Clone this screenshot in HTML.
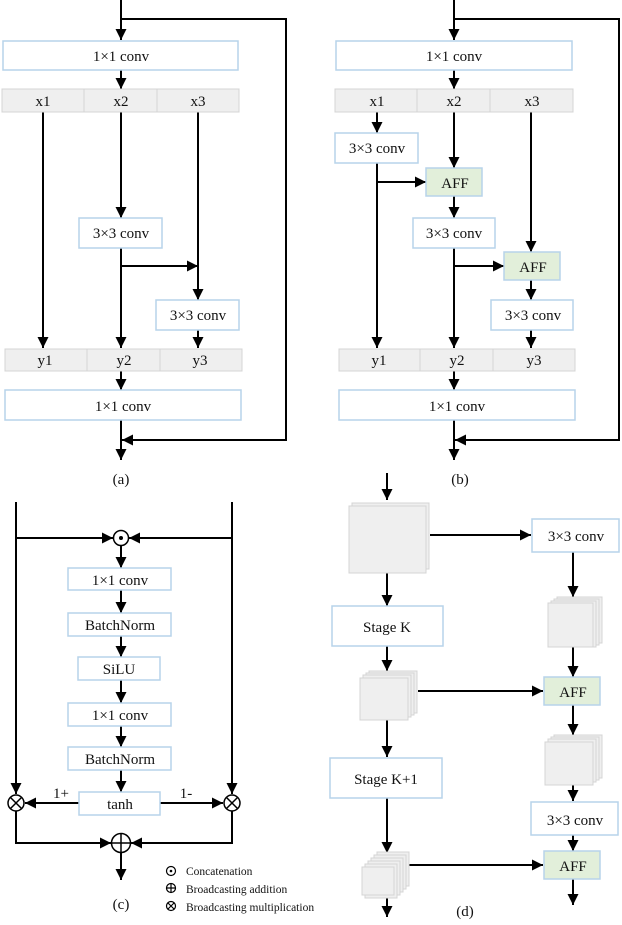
<!DOCTYPE html>
<html><head><meta charset="utf-8"><style>
body{margin:0;background:#fff}
text{font-family:"Liberation Serif",serif;fill:#111}
</style></head><body>
<svg width="622" height="920" viewBox="0 0 622 920" xmlns="http://www.w3.org/2000/svg">
<defs>
<marker id="a" viewBox="0 0 10 10" refX="10" refY="5" markerWidth="5" markerHeight="5" orient="auto" markerUnits="userSpaceOnUse"><path d="M0,0 L10,5 L0,10 z" fill="#000"/></marker>
<marker id="b" viewBox="0 0 10 10" refX="10" refY="5" markerWidth="11" markerHeight="11" orient="auto" markerUnits="userSpaceOnUse"><path d="M0,0 L10,5 L0,10 z" fill="#000"/></marker>
</defs>
<g stroke="#000" stroke-width="2" fill="none">
<!-- (a) -->
<path d="M121,0 V40" marker-end="url(#b)"/>
<path d="M121,19 H286 V440 H122" marker-end="url(#b)"/>
<path d="M121,70 V89" marker-end="url(#b)"/>
<path d="M43,112 V348" marker-end="url(#b)"/>
<path d="M121,112 V218" marker-end="url(#b)"/>
<path d="M121,248 V348" marker-end="url(#b)"/>
<path d="M121,266 H198" marker-end="url(#b)"/>
<path d="M198,112 V300" marker-end="url(#b)"/>
<path d="M198,330 V348" marker-end="url(#b)"/>
<path d="M121,371 V390" marker-end="url(#b)"/>
<path d="M121,420 V460" marker-end="url(#b)"/>
<!-- (b) -->
<path d="M454,0 V40" marker-end="url(#b)"/>
<path d="M454,19 H619 V440 H455" marker-end="url(#b)"/>
<path d="M454,70 V89" marker-end="url(#b)"/>
<path d="M377,112 V133" marker-end="url(#b)"/>
<path d="M377,163 V348" marker-end="url(#b)"/>
<path d="M377,182 H426" marker-end="url(#b)"/>
<path d="M454,112 V168" marker-end="url(#b)"/>
<path d="M454,196 V218" marker-end="url(#b)"/>
<path d="M454,248 V348" marker-end="url(#b)"/>
<path d="M454,266 H504" marker-end="url(#b)"/>
<path d="M531,112 V252" marker-end="url(#b)"/>
<path d="M531,280 V300" marker-end="url(#b)"/>
<path d="M531,330 V348" marker-end="url(#b)"/>
<path d="M454,371 V390" marker-end="url(#b)"/>
<path d="M454,420 V460" marker-end="url(#b)"/>
<!-- (c) -->
<path d="M16,502 V794" marker-end="url(#b)"/>
<path d="M232,502 V794" marker-end="url(#b)"/>
<path d="M16,538 H113" marker-end="url(#b)"/>
<path d="M232,538 H129" marker-end="url(#b)"/>
<path d="M121,546 V568" marker-end="url(#b)"/>
<path d="M121,590 V613" marker-end="url(#b)"/>
<path d="M121,636 V657" marker-end="url(#b)"/>
<path d="M121,680 V703" marker-end="url(#b)"/>
<path d="M121,726 V747" marker-end="url(#b)"/>
<path d="M121,770 V792" marker-end="url(#b)"/>
<path d="M79,803 H25" marker-end="url(#b)"/>
<path d="M160,803 H223" marker-end="url(#b)"/>
<path d="M16,811 V843 H111" marker-end="url(#b)"/>
<path d="M232,811 V843 H131" marker-end="url(#b)"/>
<path d="M121,853 V880" marker-end="url(#b)"/>
<!-- (d) -->
<path d="M387,473 V500" marker-end="url(#b)"/>
<path d="M430,535 H531" marker-end="url(#b)"/>
<path d="M573,552 V597" marker-end="url(#b)"/>
<path d="M573,647 V677" marker-end="url(#b)"/>
<path d="M573,705 V735" marker-end="url(#b)"/>
<path d="M573,785 V801" marker-end="url(#b)"/>
<path d="M573,835 V851" marker-end="url(#b)"/>
<path d="M573,879 V905" marker-end="url(#b)"/>
<path d="M387,573 V606" marker-end="url(#b)"/>
<path d="M387,646 V671" marker-end="url(#b)"/>
<path d="M418,691 H543" marker-end="url(#b)"/>
<path d="M387,720 V757" marker-end="url(#b)"/>
<path d="M387,798 V853" marker-end="url(#b)"/>
<path d="M409,865 H543" marker-end="url(#b)"/>
<path d="M387,895 V917" marker-end="url(#b)"/>
</g>
<g stroke="#b7d3ea" stroke-width="1.5" fill="#fff">
<rect x="3" y="41" width="235" height="29"/>
<rect x="79" y="218" width="83" height="30"/>
<rect x="156" y="300" width="83" height="30"/>
<rect x="5" y="390" width="236" height="30"/>
<rect x="336" y="41" width="236" height="29"/>
<rect x="335" y="133" width="83" height="30"/>
<rect x="413" y="218" width="82" height="30"/>
<rect x="491" y="300" width="82" height="30"/>
<rect x="339" y="390" width="236" height="30"/>
<rect x="68" y="568" width="103" height="22"/>
<rect x="68" y="613" width="103" height="23"/>
<rect x="78" y="657" width="82" height="23"/>
<rect x="68" y="703" width="103" height="23"/>
<rect x="68" y="747" width="103" height="23"/>
<rect x="79" y="792" width="81" height="23"/>
<rect x="532" y="519" width="87" height="33"/>
<rect x="332" y="606" width="111" height="40"/>
<rect x="330" y="758" width="112" height="40"/>
<rect x="531" y="802" width="87" height="33"/>
</g>
<g stroke="#b7d3ea" stroke-width="1.5" fill="#e2efda">
<rect x="426" y="168" width="56" height="28"/>
<rect x="504" y="252" width="56" height="28"/>
<rect x="544" y="677" width="56" height="28"/>
<rect x="544" y="851" width="56" height="28"/>
</g>
<g stroke="#d4d4d4" stroke-width="1" fill="#efefef">
<rect x="2" y="89" width="237" height="23"/>
<line x1="84" y1="89" x2="84" y2="112"/><line x1="157" y1="89" x2="157" y2="112"/>
<rect x="5" y="349" width="237" height="22"/>
<line x1="87" y1="349" x2="87" y2="371"/><line x1="160" y1="349" x2="160" y2="371"/>
<rect x="335" y="89" width="238" height="23"/>
<line x1="417" y1="89" x2="417" y2="112"/><line x1="490" y1="89" x2="490" y2="112"/>
<rect x="339" y="349" width="236" height="22"/>
<line x1="420" y1="349" x2="420" y2="371"/><line x1="493" y1="349" x2="493" y2="371"/>
<!-- stacks -->
<rect x="352" y="503" width="77" height="66"/><rect x="349" y="506" width="77" height="67"/>
<rect x="557" y="597" width="45" height="46"/><rect x="554" y="599" width="45" height="46"/><rect x="551" y="601" width="45" height="46"/><rect x="548" y="603" width="45" height="44"/>
<rect x="369" y="671" width="48" height="42"/><rect x="366" y="673" width="48" height="42"/><rect x="363" y="675" width="48" height="42"/><rect x="360" y="678" width="48" height="42"/>
<rect x="554" y="735" width="48" height="43"/><rect x="551" y="737" width="48" height="43"/><rect x="548" y="739" width="48" height="43"/><rect x="545" y="742" width="48" height="43"/>
<rect x="377" y="852" width="32" height="34"/><rect x="374" y="855" width="32" height="34"/><rect x="371" y="858" width="32" height="34"/><rect x="368" y="861" width="32" height="34"/><rect x="365" y="864" width="32" height="34"/><rect x="362" y="867" width="32" height="28"/>
</g>
<!-- circles -->
<g stroke="#000" stroke-width="1.5" fill="#fff">
<circle cx="121" cy="538" r="7.5"/>
<circle cx="16" cy="803" r="8"/><circle cx="232" cy="803" r="8"/>
<circle cx="121" cy="843" r="9.5"/>
<path d="M10.5,797.5 L21.5,808.5 M21.5,797.5 L10.5,808.5 M226.5,797.5 L237.5,808.5 M237.5,797.5 L226.5,808.5 M111.5,843 H130.5 M121,833.5 V852.5" fill="none"/>
<circle cx="171" cy="871" r="4.5" stroke-width="1.2"/>
<circle cx="171" cy="888" r="4.5" stroke-width="1.2"/>
<circle cx="171" cy="906" r="4.5" stroke-width="1.2"/>
<path d="M166.5,888 H175.5 M171,883.5 V892.5 M168,903 L174,909 M174,903 L168,909" fill="none" stroke-width="1.2"/>
</g>
<circle cx="121" cy="538" r="2" fill="#000"/>
<circle cx="171" cy="871" r="1.3" fill="#000"/>
<g font-size="15" text-anchor="middle">
<text x="121" y="61">1×1 conv</text>
<text x="43" y="106">x1</text><text x="121" y="106">x2</text><text x="198" y="106">x3</text>
<text x="121" y="238">3×3 conv</text>
<text x="198" y="320">3×3 conv</text>
<text x="45" y="365">y1</text><text x="124" y="365">y2</text><text x="200" y="365">y3</text>
<text x="123" y="411">1×1 conv</text>
<text x="121" y="484">(a)</text>
<text x="454" y="61">1×1 conv</text>
<text x="377" y="106">x1</text><text x="454" y="106">x2</text><text x="532" y="106">x3</text>
<text x="377" y="153">3×3 conv</text>
<text x="455" y="188">AFF</text>
<text x="454" y="238">3×3 conv</text>
<text x="533" y="272">AFF</text>
<text x="533" y="320">3×3 conv</text>
<text x="379" y="365">y1</text><text x="457" y="365">y2</text><text x="534" y="365">y3</text>
<text x="457" y="411">1×1 conv</text>
<text x="460" y="484">(b)</text>
<text x="120" y="585">1×1 conv</text>
<text x="120" y="630">BatchNorm</text>
<text x="119" y="674">SiLU</text>
<text x="120" y="720">1×1 conv</text>
<text x="120" y="764">BatchNorm</text>
<text x="120" y="809">tanh</text>
<text x="61" y="798">1+</text>
<text x="186" y="798">1-</text>
<text x="121" y="909">(c)</text>
<text x="576" y="541">3×3 conv</text>
<text x="387" y="632">Stage K</text>
<text x="386" y="784">Stage K+1</text>
<text x="573" y="697">AFF</text>
<text x="575" y="825">3×3 conv</text>
<text x="573" y="871">AFF</text>
<text x="465" y="916">(d)</text>
</g>
<g font-size="11.5">
<text x="186" y="875">Concatenation</text>
<text x="186" y="893">Broadcasting addition</text>
<text x="186" y="911">Broadcasting multiplication</text>
</g>
</svg>
</body></html>
